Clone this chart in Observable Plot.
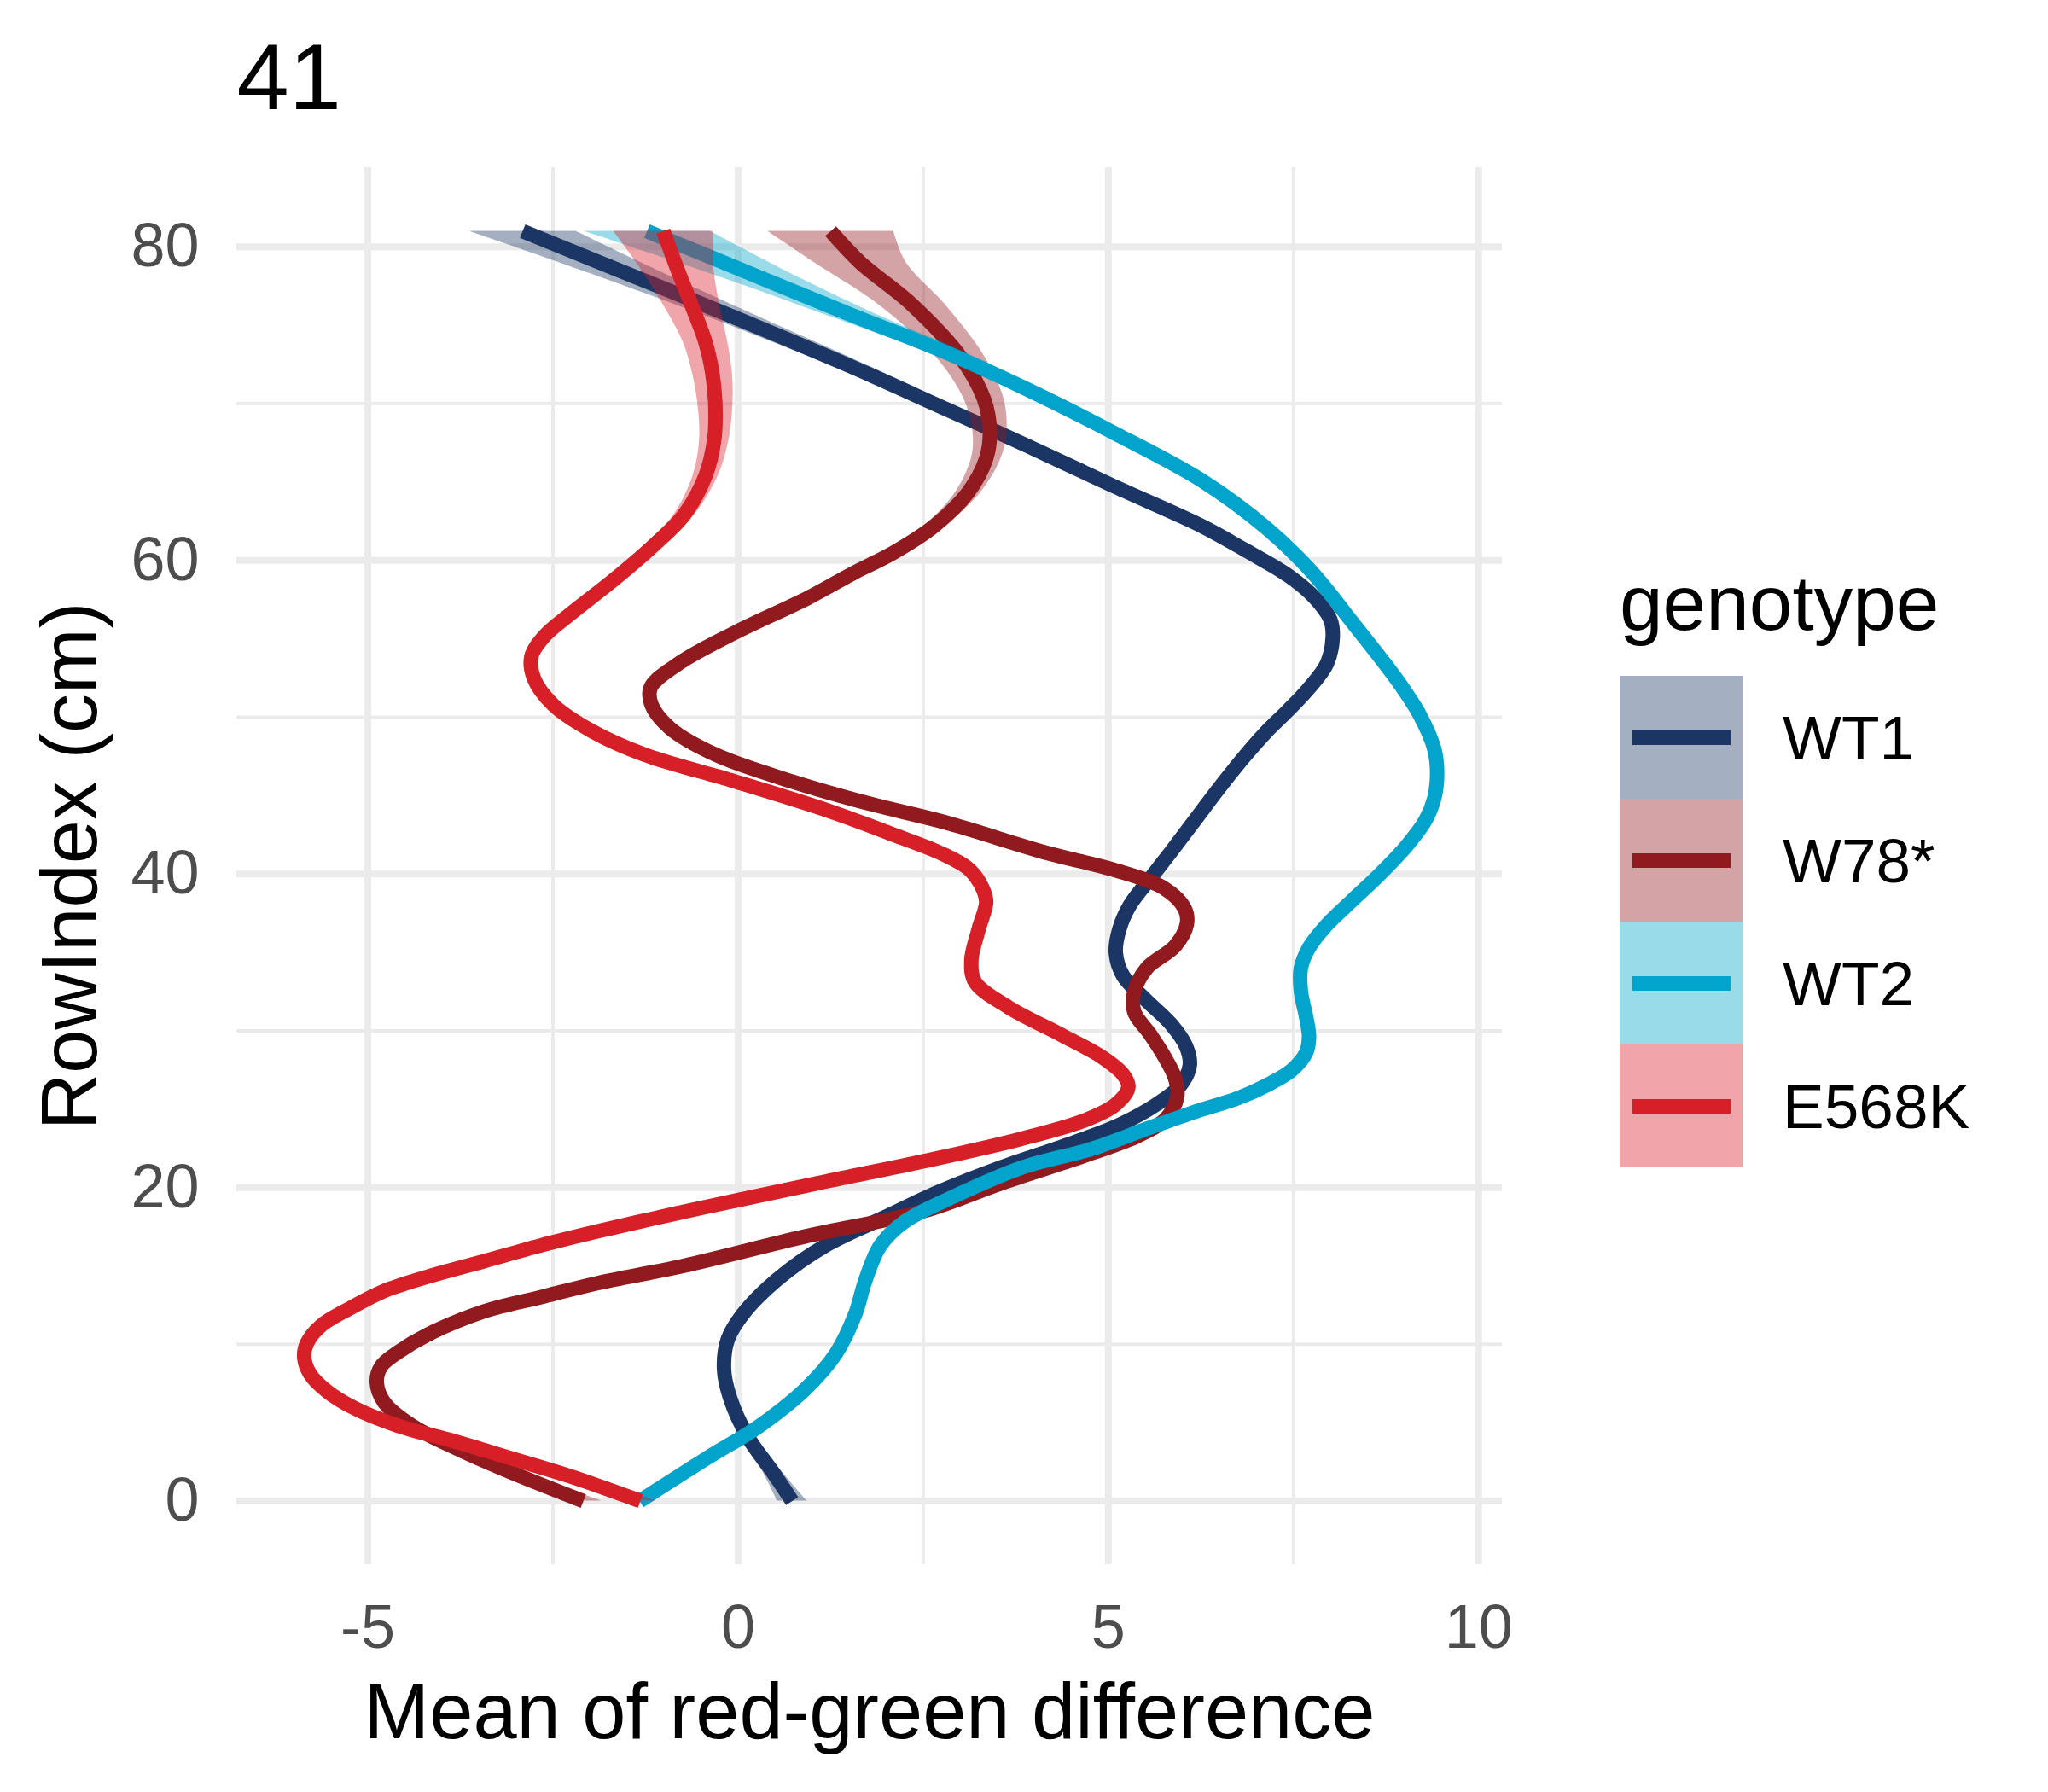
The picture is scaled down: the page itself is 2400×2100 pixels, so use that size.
<!DOCTYPE html>
<html>
<head>
<meta charset="utf-8">
<script src="https://cdn.jsdelivr.net/npm/d3@7"></script>
<script src="https://cdn.jsdelivr.net/npm/@observablehq/plot@0.6"></script>
<style>
  html, body { margin: 0; padding: 0; background: #ffffff; }
  #wrap { position: relative; width: 2400px; height: 2100px; font-family: "Liberation Sans", Arial, sans-serif; }
  #chart { position: absolute; left: 0; top: 0; }
  #legend { position: absolute; left: 1898px; top: 661px; }
  #legend .ttl { font-size: 91px; line-height: 91px; height: 131px; color: #000; white-space: nowrap; }
  #legend .row { display: flex; align-items: center; height: 144px; }
  #legend .key { width: 144px; height: 144px; position: relative; }
  #legend .key .ln { position: absolute; left: 14.5px; width: 115px; top: 63.5px; height: 17px; }
  #legend .lab { margin-left: 47px; font-size: 73px; line-height: 73px; color: #000; white-space: nowrap; }
</style>
</head>
<body>
<div id="wrap">
  <div id="chart"></div>
  <div id="legend"></div>
</div>
<script>
// ---- data ----
const genotypes = ["WT1", "W78*", "WT2", "E568K"];
const colors = ["#1B3664", "#901A1E", "#02A4CB", "#D71F27"];

const xTicks = [-5, 0, 5, 10];
const xMinor = [-2.5, 2.5, 7.5];
const yTicks = [0, 20, 40, 60, 80];
const yMinor = [10, 30, 50, 70];

// RowIndex (y), smoothed mean (x), ribbon half-width (w)
const wt1Y = [0, 1.9, 4.1, 6.6, 8.4, 10.3, 11.9, 14.1, 16.3, 18.1, 19.7, 21.3, 22.8, 24.0, 25.3, 26.5, 27.8, 29.0, 30.4, 32.0, 33.5, 35.0, 36.5, 38.0, 39.8, 41.5, 43.5, 45.5, 47.5, 49.0, 50.4, 51.8, 53.4, 55.1, 56.2, 57.6, 59.0, 60.6, 62.2, 64.7, 67.3, 69.8, 72.3, 75.6, 78.3, 81];
const wt1X = [0.73, 0.46, 0.13, -0.11, -0.19, -0.14, 0.06, 0.52, 1.18, 1.98, 2.70, 3.56, 4.49, 5.15, 5.65, 5.97, 6.10, 6.05, 5.85, 5.50, 5.20, 5.10, 5.15, 5.29, 5.58, 5.86, 6.18, 6.50, 6.84, 7.12, 7.42, 7.70, 7.95, 8.03, 8.00, 7.79, 7.44, 6.87, 6.26, 5.09, 3.91, 2.74, 1.56, -0.10, -1.50, -2.91];
const wt1W = [0.20, 0.13, 0.09, 0.07, 0.06, 0.06, 0.06, 0.06, 0.06, 0.06, 0.06, 0.06, 0.06, 0.06, 0.06, 0.06, 0.07, 0.07, 0.07, 0.07, 0.07, 0.07, 0.07, 0.07, 0.07, 0.07, 0.07, 0.07, 0.07, 0.07, 0.07, 0.07, 0.07, 0.08, 0.08, 0.08, 0.08, 0.09, 0.10, 0.12, 0.15, 0.19, 0.25, 0.35, 0.50, 0.72];

const w78Y = [0, 1.8, 3.4, 4.8, 6.3, 7.6, 8.6, 9.5, 10.6, 12.1, 13.0, 13.9, 15.0, 16.9, 18.5, 20.3, 22.1, 23.3, 24.4, 25.8, 27.0, 28.4, 29.8, 31.2, 32.5, 34.0, 35.4, 36.8, 37.8, 39.1, 40.3, 41.3, 43.3, 44.5, 45.9, 47.6, 49.3, 50.8, 51.9, 53.4, 55.4, 57.6, 59.2, 60.5, 62.2, 64.3, 66.5, 68.2, 70.3, 73.0, 76.3, 79.0, 81];
const w78X = [-2.09, -3.05, -3.82, -4.40, -4.78, -4.88, -4.82, -4.59, -4.20, -3.43, -2.67, -1.90, -0.74, 0.92, 2.51, 3.57, 4.72, 5.40, 5.78, 5.93, 5.90, 5.75, 5.56, 5.35, 5.35, 5.52, 5.90, 6.06, 6.03, 5.75, 5.05, 4.20, 2.79, 1.76, 0.73, -0.30, -0.92, -1.17, -1.18, -0.81, -0.04, 0.94, 1.56, 2.10, 2.65, 3.10, 3.35, 3.40, 3.32, 3.00, 2.35, 1.65, 1.25];
const w78W = [0.25, 0.16, 0.12, 0.10, 0.09, 0.09, 0.09, 0.08, 0.08, 0.07, 0.07, 0.07, 0.07, 0.07, 0.07, 0.07, 0.07, 0.07, 0.07, 0.08, 0.08, 0.08, 0.08, 0.08, 0.08, 0.08, 0.08, 0.08, 0.08, 0.08, 0.08, 0.08, 0.08, 0.08, 0.08, 0.08, 0.08, 0.08, 0.09, 0.09, 0.09, 0.10, 0.11, 0.12, 0.14, 0.17, 0.20, 0.23, 0.27, 0.33, 0.45, 0.62, 0.85];

const wt2Y = [0, 2.8, 4.7, 7.2, 9.4, 11.9, 14.1, 16.3, 17.8, 19.4, 21.3, 22.5, 23.8, 24.8, 25.7, 26.6, 27.5, 28.6, 29.6, 30.9, 32.5, 34.0, 35.3, 36.7, 38.3, 40.0, 41.8, 43.4, 44.8, 46.5, 48.0, 50.1, 52.3, 55.9, 59.3, 62.0, 65.1, 68.1, 70.9, 73.4, 75.6, 78.0, 81];
const wt2X = [-1.33, -0.40, 0.26, 0.92, 1.32, 1.58, 1.72, 1.92, 2.24, 2.90, 3.85, 4.80, 5.55, 6.15, 6.75, 7.17, 7.48, 7.67, 7.71, 7.67, 7.60, 7.60, 7.71, 7.94, 8.29, 8.67, 9.03, 9.28, 9.40, 9.44, 9.40, 9.21, 8.91, 8.32, 7.74, 7.15, 6.26, 5.09, 3.91, 2.74, 1.56, 0.32, -1.23];
const wt2W = [0.15, 0.09, 0.07, 0.06, 0.06, 0.06, 0.06, 0.06, 0.06, 0.06, 0.06, 0.06, 0.06, 0.06, 0.06, 0.06, 0.07, 0.07, 0.07, 0.07, 0.07, 0.07, 0.07, 0.07, 0.07, 0.07, 0.07, 0.07, 0.07, 0.07, 0.07, 0.07, 0.07, 0.08, 0.08, 0.09, 0.11, 0.14, 0.19, 0.26, 0.35, 0.52, 0.85];

const e568Y = [0, 1.6, 2.7, 3.8, 4.8, 5.9, 7.0, 8.1, 9.2, 10.1, 11.2, 12.3, 13.4, 14.3, 15.3, 16.3, 17.2, 18.3, 19.2, 20.4, 21.7, 23.1, 24.3, 25.3, 26.4, 27.2, 28.3, 29.7, 31.5, 33.1, 34.5, 36.5, 38.2, 39.1, 40.3, 41.3, 42.5, 44.0, 45.9, 47.6, 49.1, 50.8, 52.5, 53.9, 55.2, 56.6, 58.8, 61.0, 62.9, 65.4, 67.8, 70.2, 72.0, 73.9, 76.3, 78.7, 81];
const e568X = [-1.32, -2.28, -3.05, -3.82, -4.59, -5.17, -5.55, -5.78, -5.86, -5.82, -5.63, -5.24, -4.78, -4.20, -3.43, -2.67, -1.90, -0.88, 0.00, 1.20, 2.53, 3.82, 4.69, 5.10, 5.27, 5.20, 4.92, 4.38, 3.65, 3.20, 3.15, 3.25, 3.35, 3.30, 3.12, 2.75, 2.10, 1.24, -0.04, -1.26, -1.97, -2.50, -2.76, -2.79, -2.61, -2.26, -1.67, -1.13, -0.73, -0.44, -0.32, -0.31, -0.35, -0.44, -0.63, -0.83, -1.01];
const e568W = [0.22, 0.15, 0.12, 0.10, 0.09, 0.08, 0.08, 0.08, 0.08, 0.08, 0.07, 0.07, 0.07, 0.07, 0.07, 0.07, 0.07, 0.07, 0.07, 0.07, 0.07, 0.07, 0.07, 0.07, 0.08, 0.08, 0.08, 0.08, 0.08, 0.08, 0.08, 0.08, 0.08, 0.08, 0.08, 0.08, 0.08, 0.08, 0.08, 0.08, 0.08, 0.08, 0.08, 0.09, 0.09, 0.09, 0.10, 0.12, 0.14, 0.17, 0.20, 0.24, 0.27, 0.30, 0.38, 0.50, 0.67];

// ---- table built from the arrays ----
const series = [
  ["WT1", wt1Y, wt1X, wt1W],
  ["W78*", w78Y, w78X, w78W],
  ["WT2", wt2Y, wt2X, wt2W],
  ["E568K", e568Y, e568X, e568W]
];
const rows = series.flatMap(([g, ys, xs, ws]) =>
  ys.map((y, i) => ({genotype: g, y, x: xs[i], lo: xs[i] - ws[i], hi: xs[i] + ws[i]})));

const font = "'Liberation Sans', Arial, sans-serif";

const groupMarks = genotypes.flatMap(g => {
  const d = rows.filter(r => r.genotype === g);
  return [
    Plot.areaX(d, {x1: "lo", x2: "hi", y: "y", fill: "genotype", fillOpacity: 0.4, curve: "catmull-rom"}),
    Plot.line(d, {x: "x", y: "y", stroke: "genotype", strokeWidth: 17, curve: "catmull-rom", strokeLinecap: "butt", strokeLinejoin: "round"})
  ];
});

const chart = Plot.plot({
  width: 2400,
  height: 2100,
  marginLeft: 277,
  marginRight: 640,
  marginTop: 196,
  marginBottom: 267,
  style: {fontFamily: font, fontSize: "72px", color: "#4D4D4D", background: "#ffffff"},
  x: {domain: [-6.77, 10.32], label: null},
  y: {domain: [-4.05, 85.05], label: null},
  color: {domain: genotypes, range: colors},
  marks: [
    Plot.gridX(xMinor, {stroke: "#EBEBEB", strokeOpacity: 1, strokeWidth: 4}),
    Plot.gridY(yMinor, {stroke: "#EBEBEB", strokeOpacity: 1, strokeWidth: 4}),
    Plot.gridX(xTicks, {stroke: "#EBEBEB", strokeOpacity: 1, strokeWidth: 8}),
    Plot.gridY(yTicks, {stroke: "#EBEBEB", strokeOpacity: 1, strokeWidth: 8}),
    Plot.axisX({ticks: xTicks, tickSize: 0, tickPadding: 46, fontSize: 72, fill: "#4D4D4D", label: null, tickFormat: d => String(d)}),
    Plot.axisY({ticks: yTicks, tickSize: 0, tickPadding: 44, fontSize: 72, fill: "#4D4D4D", label: null, tickFormat: d => String(d)}),
    ...groupMarks,
    Plot.text(["41"], {text: d => d, frameAnchor: "top-left", dy: -69, lineAnchor: "bottom", textAnchor: "start", fontSize: 110, fill: "#000000"}),
    Plot.text(["Mean of red-green difference"], {text: d => d, frameAnchor: "bottom", dy: 203, lineAnchor: "bottom", textAnchor: "middle", fontSize: 92, fill: "#000000"}),
    Plot.text(["RowIndex (cm)"], {text: d => d, frameAnchor: "left", dx: -165, rotate: -90, lineAnchor: "bottom", textAnchor: "middle", fontSize: 92, fill: "#000000"})
  ]
});
document.getElementById("chart").appendChild(chart);

// ---- legend (HTML) ----
const legend = document.getElementById("legend");
const ttl = document.createElement("div");
ttl.className = "ttl";
ttl.textContent = "genotype";
legend.appendChild(ttl);
const toRgba = (hex, a) => {
  const c = d3.color(hex); c.opacity = a; return c.formatRgb();
};
genotypes.forEach((g, i) => {
  const row = document.createElement("div");
  row.className = "row";
  const key = document.createElement("div");
  key.className = "key";
  key.style.background = toRgba(colors[i], 0.4);
  const ln = document.createElement("div");
  ln.className = "ln";
  ln.style.background = colors[i];
  key.appendChild(ln);
  const lab = document.createElement("div");
  lab.className = "lab";
  lab.textContent = g;
  row.appendChild(key);
  row.appendChild(lab);
  legend.appendChild(row);
});
</script>
</body>
</html>
